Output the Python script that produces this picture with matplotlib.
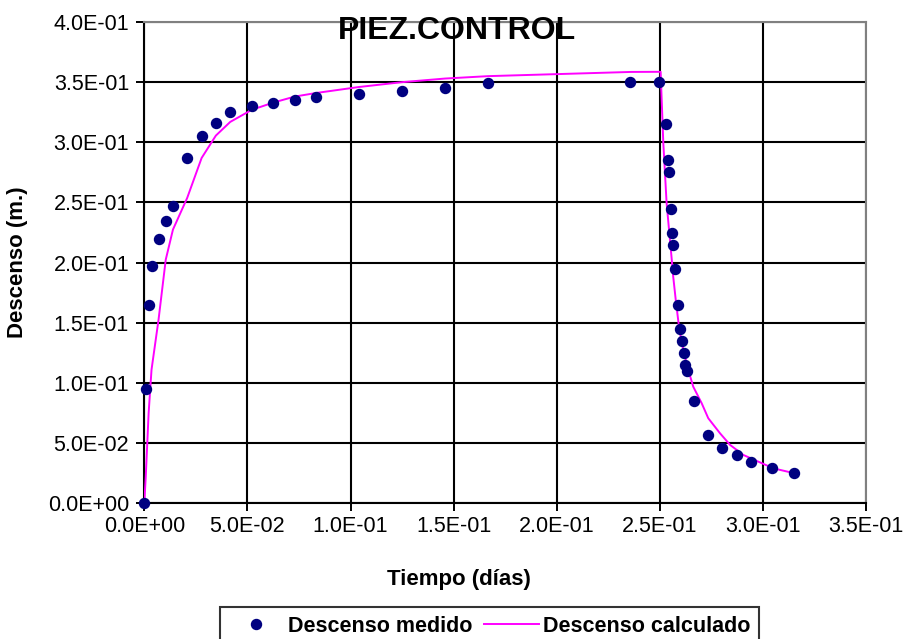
import matplotlib
matplotlib.use("Agg")
import matplotlib.pyplot as plt
from matplotlib.ticker import FuncFormatter, MultipleLocator

plt.rcParams['font.family'] = ['Liberation Sans', 'DejaVu Sans']

# Measured drawdown (días, m)
t_med = [0.0, 0.0007, 0.0021, 0.0035, 0.0069, 0.0104, 0.0139, 0.0208, 0.0278,
         0.0347, 0.0417, 0.0521, 0.0625, 0.0729, 0.0833, 0.1042, 0.125, 0.1458,
         0.1667, 0.2354, 0.2498, 0.2530, 0.2538, 0.2547, 0.2553, 0.2560, 0.2563,
         0.2573, 0.2586, 0.2597, 0.2608, 0.2615, 0.2621, 0.2631, 0.2666, 0.2734,
         0.2804, 0.2872, 0.2941, 0.3046, 0.3151]
s_med = [0.0, 0.095, 0.165, 0.197, 0.220, 0.235, 0.247, 0.287, 0.305,
         0.316, 0.325, 0.330, 0.333, 0.3355, 0.3375, 0.340, 0.343, 0.345,
         0.349, 0.350, 0.350, 0.315, 0.2856, 0.275, 0.245, 0.225, 0.215,
         0.195, 0.165, 0.145, 0.135, 0.125, 0.115, 0.110, 0.0854, 0.0568,
         0.0463, 0.0399, 0.0341, 0.029, 0.025]

# Calculated drawdown
t_calc = [0.0, 0.0007, 0.0021, 0.0035, 0.0069, 0.0104, 0.0139, 0.0208, 0.0278,
          0.0347, 0.0417, 0.0521, 0.0625, 0.0729, 0.0833, 0.1042, 0.125, 0.1458,
          0.1667, 0.2361, 0.2504, 0.2517, 0.2533, 0.2558, 0.2565, 0.2579, 0.2595,
          0.2614, 0.2638, 0.2662, 0.2703, 0.2735, 0.2792, 0.2841, 0.2905, 0.2978,
          0.3050, 0.3152]
s_calc = [0.0, 0.022, 0.075, 0.111, 0.1525, 0.2025, 0.2275, 0.2538, 0.287,
          0.3056, 0.317, 0.327, 0.333, 0.338, 0.341, 0.346, 0.350, 0.353,
          0.355, 0.3585, 0.3586, 0.2995, 0.2496, 0.2024, 0.1885, 0.1664, 0.1442,
          0.1275, 0.1109, 0.0970, 0.0832, 0.0707, 0.0582, 0.0485, 0.0402, 0.0346,
          0.0291, 0.0250]

title = "PIEZ.CONTROL"
xlabel = "Tiempo (días)"
ylabel = "Descenso (m.)"
lab_med = "Descenso medido"
lab_calc = "Descenso calculado"

W, H = 904, 639
fig = plt.figure(figsize=(W / 100, H / 100), dpi=100)
x0, x1, y0, y1 = 144.3, 866, 22, 503.3
ax = fig.add_axes([x0 / W, 1 - y1 / H, (x1 - x0) / W, (y1 - y0) / H])

ax.set_xlim(0, 0.35)
ax.set_ylim(0, 0.4)
ax.xaxis.set_major_locator(MultipleLocator(0.05))
ax.yaxis.set_major_locator(MultipleLocator(0.05))
fmt = FuncFormatter(lambda v, p: "%.1E" % (0.0 if abs(v) < 1e-12 else v))
ax.xaxis.set_major_formatter(fmt)
ax.yaxis.set_major_formatter(fmt)

ax.grid(True, color='black', linewidth=1.5)
ax.set_axisbelow(True)
for side in ['top', 'right']:
    ax.spines[side].set_color('#808080')
    ax.spines[side].set_linewidth(1.5)
for side in ['left', 'bottom']:
    ax.spines[side].set_color('black')
    ax.spines[side].set_linewidth(1.5)
ax.tick_params(axis='both', direction='out', length=6, width=1.4, color='black',
               labelsize=15.5)
ax.tick_params(axis='y', pad=5)
ax.tick_params(axis='x', pad=3)

ax.plot(t_calc, s_calc, color='#FF00FF', linewidth=1.4, label=lab_calc, zorder=3)
ax.plot(t_med, s_med, linestyle='none', marker='o', markersize=7.2,
        color='#000080', label=lab_med, zorder=4, clip_on=False)

fig.text(457 / W, 1 - 31 / H, title, ha='center', va='center',
         fontsize=23, fontweight='bold')
fig.text(459 / W, 1 - 579 / H, xlabel, ha='center', va='center',
         fontsize=16, fontweight='bold')
fig.text(18 / W, 1 - 262 / H, ylabel, ha='center', va='center',
         fontsize=16, fontweight='bold', rotation=90)

h1, = [l for l in ax.get_lines() if l.get_label() == lab_med]
h2, = [l for l in ax.get_lines() if l.get_label() == lab_calc]
leg = fig.legend([h1, h2], [lab_med, lab_calc], loc='upper left',
                 bbox_to_anchor=(220 / W, 1 - 607 / H), ncol=2,
                 prop={'weight': 'bold', 'size': 15.5}, frameon=True,
                 fancybox=False, edgecolor='black', handlelength=2.55,
                 columnspacing=0.55, handletextpad=0.2, borderpad=0.4,
                 borderaxespad=0)
leg.get_frame().set_linewidth(1.5)

fig.savefig('out.png', dpi=100)
